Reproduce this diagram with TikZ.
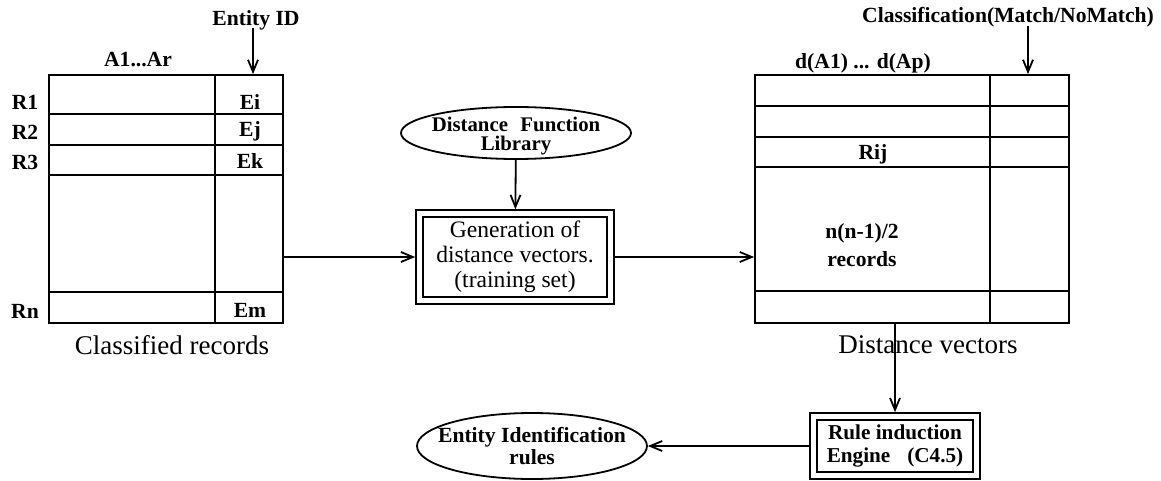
\documentclass[tikz,border=0pt]{standalone}
\usepackage{fontspec}
\setmainfont{Liberation Serif}
\usepackage{tikz}
\usetikzlibrary{arrows.meta,positioning,calc,fit,shapes.geometric}

\begin{document}
\begin{tikzpicture}[x=0.5pt,y=-0.5pt,>={Straight Barb[length=6pt,width=5pt]},
  lbl/.style={font=\fontsize{10.8}{11}\selectfont\bfseries,inner sep=0pt,align=center},
  capt/.style={font=\fontsize{13.5}{15}\selectfont,inner sep=0pt},
  tbl/.style={draw,line width=0.9pt,inner sep=0pt},
  ell/.style={draw,ellipse,line width=0.9pt,inner sep=0pt},
  ibox/.style={draw,line width=0.9pt,inner sep=0pt,align=center},
  obox/.style={draw,line width=0.9pt,inner xsep=3pt,inner ysep=3pt},
  arr/.style={->,line width=0.9pt}]
\useasboundingbox (0,0) rectangle (1161,481);
% CLASSIFIED RECORDS
\node[tbl,minimum width=117pt,minimum height=124pt] (lt) at (166,199) {};
\foreach \y in {114,145,175,292} \draw[line width=0.9pt] (49,\y) -- (283,\y);
\draw[line width=0.9pt] (215,75) -- (215,323);
\node[lbl] (a1ar) at (138,60) {A1...Ar};
\node[lbl] (eid) at (256,20) {Entity ID};
\coordinate (eida) at (253,28);
\node[lbl] (r1) at (25,102) {R1};
\node[lbl] (r2) at (25,132) {R2};
\node[lbl] (r3) at (25,162) {R3};
\node[lbl] (rn) at (25,311) {Rn};
\node[lbl] (ei) at (250,102) {Ei};
\node[lbl] (ej) at (250,131) {Ej};
\node[lbl] (ek) at (250,161) {Ek};
\node[lbl] (em) at (250,310) {Em};
\node[capt] (clrec) at (172,345) {Classified records};
\draw[arr] (eida) -- (eida |- lt.north);
% GENERATION
\node[ell,minimum width=115pt,minimum height=26pt] (lib) at (516,133) {};
\node[lbl,font=\fontsize{10.4}{9.5}\selectfont\bfseries] (libt) at (516,136)
  {Distance\hspace{0.6em}Function\\Library};
\node[ibox,minimum width=92pt,minimum height=40pt,
  font=\fontsize{11.8}{12.5}\selectfont] (gen) at (515,257)
  {Generation of\\distance vectors.\\(training set)};
\node[obox,fit=(gen)] (genbox) {};
\draw[arr] (lib) -- (genbox);
\draw[arr] (lt.east |- genbox.west) -- (genbox.west);
% DISTANCE VECTORS
\node[tbl,minimum width=157pt,minimum height=124pt] (rt) at (912,199) {};
\foreach \y in {106,137,167,291} \draw[line width=0.9pt] (755,\y) -- (1069,\y);
\draw[line width=0.9pt] (990,75) -- (990,323);
\node[lbl] (dap) at (863,63) {d(A1) ... d(Ap)};
\node[lbl] (cls) at (1008,17) {Classification(Match/NoMatch)};
\coordinate (clsa) at (1028,26);
\node[lbl] (rij) at (873,154) {Rij};
\node[lbl,font=\fontsize{10.8}{14}\selectfont\bfseries] (nrec) at (862,245) {n(n-1)/2\\records};
\node[capt] (dvec) at (928,345) {Distance vectors};
\draw[arr] (clsa) -- (clsa |- rt.north);
\draw[arr] (genbox.east) -- (rt.west |- genbox.east);
% RULES
\node[ibox,minimum width=78pt,minimum height=26pt,
  font=\fontsize{10.6}{11.5}\selectfont\bfseries] (rule) at (895,446)
  {Rule induction\\Engine\hspace{0.8em}(C4.5)};
\node[obox,fit=(rule)] (rulebox) {};
\node[ell,minimum width=115pt,minimum height=33pt] (eir) at (532,446) {};
\node[lbl] (eirt) at (eir) {Entity Identification\\rules};
\draw[arr] (rulebox.north |- rt.south) -- (rulebox.north);
\draw[arr] (rulebox.west) -- (rulebox.west -| eir.east);
\end{tikzpicture}
\end{document}
